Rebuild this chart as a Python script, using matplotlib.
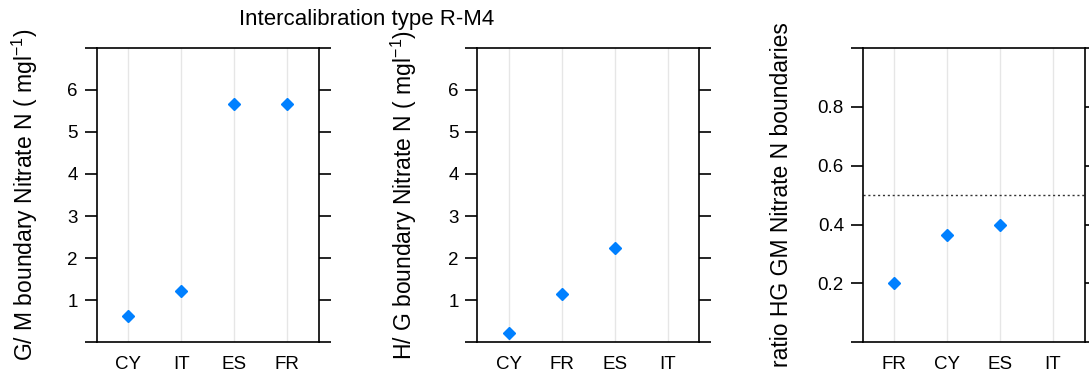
import matplotlib.pyplot as plt
import numpy as np

plt.rcParams['font.family'] = ['Liberation Sans', 'DejaVu Sans']
plt.rcParams['mathtext.fontset'] = 'custom'
plt.rcParams['mathtext.rm'] = 'Liberation Sans'
plt.rcParams['mathtext.it'] = 'Liberation Sans'

# panel 1: G/M boundary
gm_countries = ['CY', 'IT', 'ES', 'FR']
gm_values = [0.63, 1.23, 5.66, 5.66]

# panel 2: H/G boundary
hg_countries = ['CY', 'FR', 'ES', 'IT']
hg_values = [0.23, 1.15, 2.25, np.nan]

# panel 3: ratio HG/GM
ratio_countries = ['FR', 'CY', 'ES', 'IT']
ratio_values = [0.20, 0.365, 0.40, np.nan]

blue = '#0080ff'
W, H = 1089, 378
fig = plt.figure(figsize=(W / 100, H / 100), dpi=100)


def panel(left, cats, vals, ylim, yticks, ylabels, ylab, labx):
    ax = fig.add_axes([left / W, 1 - 342.4 / H, 222 / W, 294.7 / H])
    x = np.arange(1, len(cats) + 1)
    for xi in x:
        ax.axvline(xi, color='#e6e6e6', lw=1, zorder=0)
    ax.plot(x, vals, 'D', color=blue, ms=6.5, mec=blue, zorder=3)
    ax.set_xlim(0.4, len(cats) + 0.6)
    ax.set_ylim(*ylim)
    ax.set_xticks(x)
    ax.set_xticklabels(cats, fontsize=13.5)
    ax.set_yticks(yticks)
    ax.set_yticklabels(ylabels, fontsize=13.5)
    ax.tick_params(axis='x', length=0, pad=10)
    ax.tick_params(axis='y', length=8.5, width=1.2, direction='out', pad=5,
                   right=True, left=True)
    for s in ax.spines.values():
        s.set_linewidth(1.2)
    ax.set_ylabel(ylab, fontsize=16.5, va='center')
    ax.yaxis.set_label_coords((labx - left) / 222, 0.5)
    return ax


yt = list(range(8))
yl = [''] + [str(i) for i in range(1, 7)] + ['']
panel(96.7, gm_countries, gm_values, (0, 7), yt, yl,
      r'G/ M boundary Nitrate N ( mgl$^{-1}$)', 25)
panel(477.3, hg_countries, hg_values, (0, 7), yt, yl,
      r'H/ G boundary Nitrate N ( mgl$^{-1}$)', 404)
rt = [0, 0.2, 0.4, 0.6, 0.8, 1.0]
rl = ['', '0.2', '0.4', '0.6', '0.8', '']
ax3 = panel(862.7, ratio_countries, ratio_values, (0, 1), rt, rl,
            'ratio HG GM Nitrate N boundaries', 781)
ax3.axhline(0.5, color='#333333', lw=1, ls=(0, (1.5, 2)), zorder=1)

fig.text(367 / W, 1 - 20 / H, 'Intercalibration type R-M4', ha='center',
         va='center', fontsize=16)

fig.savefig('out.png', dpi=100)
